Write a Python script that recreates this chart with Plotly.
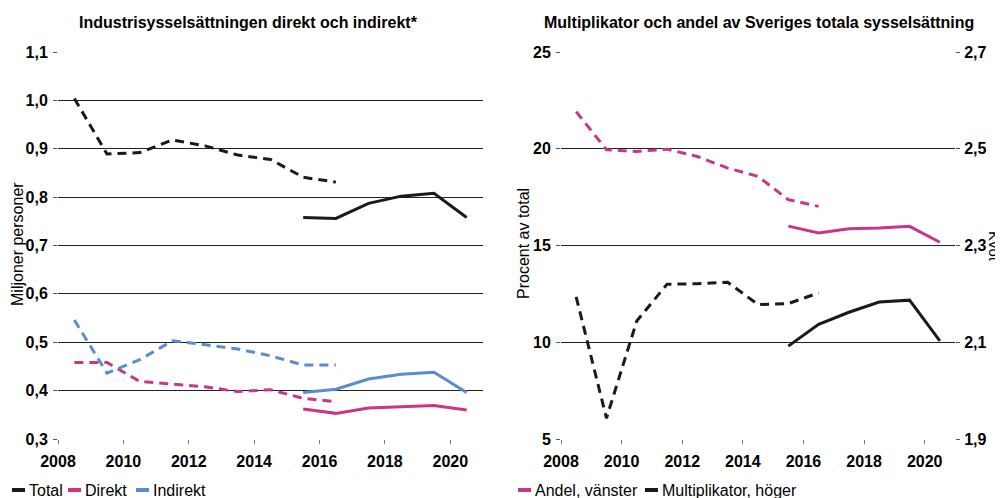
import plotly.graph_objects as go

# ---------------- data ----------------
years_old = [2008, 2009, 2010, 2011, 2012, 2013, 2014, 2015, 2016]
years_new = [2015, 2016, 2017, 2018, 2019, 2020]

total_old = [1.004, 0.889, 0.892, 0.918, 0.906, 0.887, 0.878, 0.841, 0.831]
total_new = [0.758, 0.756, 0.787, 0.802, 0.808, 0.758]
direkt_old = [0.458, 0.458, 0.419, 0.414, 0.408, 0.398, 0.402, 0.384, 0.377]
direkt_new = [0.362, 0.353, 0.364, 0.367, 0.369, 0.360]
indirekt_old = [0.546, 0.436, 0.464, 0.503, 0.495, 0.486, 0.472, 0.453, 0.453]
indirekt_new = [0.396, 0.403, 0.424, 0.434, 0.438, 0.396]

andel_old = [21.92, 19.95, 19.86, 19.98, 19.6, 19.0, 18.57, 17.37, 17.02]
andel_new = [16.0, 15.65, 15.86, 15.9, 15.99, 15.17]
multi_old = [2.194, 1.943, 2.144, 2.220, 2.221, 2.224, 2.178, 2.180, 2.202]
multi_new = [2.092, 2.137, 2.162, 2.183, 2.187, 2.103]

tick_years = [2008, 2010, 2012, 2014, 2016, 2018, 2020]
left_ticks = [0.3, 0.4, 0.5, 0.6, 0.7, 0.8, 0.9, 1.0, 1.1]
right_left_ticks = [5, 10, 15, 20, 25]
right_right_ticks = [1.9, 2.1, 2.3, 2.5, 2.7]

# ---------------- style ----------------
BLACK = "#1a1a1a"
PINK = "#c8358b"
BLUE = "#5b8cd0"
FONT = "Liberation Sans, Arial, sans-serif"
DASH = "9px,6px"
W = 3

def mid(years):
    # annual values plotted at mid-year
    return [y + 0.5 for y in years]

fig = go.Figure()

def add(x, y, color, dash, xa, ya):
    fig.add_trace(go.Scatter(
        x=mid(x), y=y, mode="lines",
        line=dict(color=color, width=W, dash=dash),
        xaxis=xa, yaxis=ya, showlegend=False, hoverinfo="x+y"))

# left panel
add(years_old, total_old, BLACK, DASH, "x", "y")
add(years_new, total_new, BLACK, "solid", "x", "y")
add(years_old, direkt_old, PINK, DASH, "x", "y")
add(years_new, direkt_new, PINK, "solid", "x", "y")
add(years_old, indirekt_old, BLUE, DASH, "x", "y")
add(years_new, indirekt_new, BLUE, "solid", "x", "y")

# right panel
add(years_old, andel_old, PINK, DASH, "x2", "y2")
add(years_new, andel_new, PINK, "solid", "x2", "y2")
add(years_old, multi_old, BLACK, DASH, "x2", "y3")
add(years_new, multi_new, BLACK, "solid", "x2", "y3")

# page has an 8px default body margin: lay the figure out in page pixels
OFF = 8
PW, PH = 1003 - OFF, 498 - OFF
TOP, BOT = 52, 439          # page y of plot top/bottom
MT, MB = TOP - OFF, 498 - BOT
PLOT_H = PH - MT - MB
tickfont = dict(family=FONT, size=16, color="#000", weight="bold")

def px_x(x):
    return (x - OFF) / PW

def px_y(y):
    return (BOT - y) / PLOT_H

xcommon = dict(
    range=[2008, 2021], tickmode="array", tickvals=tick_years,
    ticktext=[str(t) for t in tick_years], ticks="outside", ticklen=4,
    tickcolor="#777", tickwidth=1, showgrid=False, zeroline=False,
    showline=False, tickfont=tickfont, fixedrange=True,
    ticklabelstandoff=4,
)
ycommon = dict(
    ticks="outside", ticklen=4, tickcolor="#555", tickwidth=1,
    showgrid=True, gridcolor="#222", gridwidth=1, zeroline=False,
    showline=False, tickfont=tickfont, fixedrange=True,
    ticklabelstandoff=2,
)

fig.update_layout(
    width=PW, height=PH,
    margin=dict(l=0, r=0, t=MT, b=MB, autoexpand=False),
    paper_bgcolor="white", plot_bgcolor="white",
    separators=", ",
    font=dict(family=FONT, color="#000"),
    showlegend=False,
    xaxis=dict(domain=[px_x(58), px_x(483)], anchor="y", **xcommon),
    yaxis=dict(range=[0.3, 1.1], tickvals=left_ticks, tickformat=".1f",
               anchor="x", **ycommon),
    xaxis2=dict(domain=[px_x(561), px_x(955)], anchor="y2", **xcommon),
    yaxis2=dict(range=[5, 25], tickvals=right_left_ticks, anchor="x2",
                **ycommon),
    yaxis3=dict(range=[1.9, 2.7], tickvals=right_right_ticks,
                tickformat=".1f", overlaying="y2", side="right",
                anchor="x2", **{**ycommon, "showgrid": False,
                                "ticklabelstandoff": 1}),
)

ann = []
def text(x, y, s, size, bold=False, angle=0, xanchor="center"):
    ann.append(dict(
        x=px_x(x), y=px_y(y), xref="paper", yref="paper", text=s,
        showarrow=False, xanchor=xanchor, yanchor="middle", textangle=angle,
        font=dict(family=FONT, size=size, color="#000",
                  weight="bold" if bold else "normal")))

text(248, 22, "Industrisysselsättningen direkt och indirekt*", 16, bold=True)
text(759, 22, "Multiplikator och andel av Sveriges totala sysselsättning", 16, bold=True)
text(17, 244, "Miljoner personer", 16, angle=-90)
text(523, 244, "Procent av total", 16, angle=-90)
text(994, 246, "Kvot", 15, angle=90)

# manual legends (short line symbols)
shapes = []
legend_items = [
    (12, "Total", BLACK), (68, "Direkt", PINK), (136, "Indirekt", BLUE),
    (518, "Andel, vänster", PINK), (645, "Multiplikator, höger", BLACK),
]
LY = 490
for x0, label, color in legend_items:
    shapes.append(dict(type="line", xref="paper", yref="paper",
                       x0=px_x(x0), x1=px_x(x0 + 13),
                       y0=px_y(LY), y1=px_y(LY),
                       line=dict(color=color, width=4)))
    text(x0 + 15, LY, label, 16, xanchor="left")

fig.update_layout(annotations=ann, shapes=shapes)

fig.write_html("out.html")
